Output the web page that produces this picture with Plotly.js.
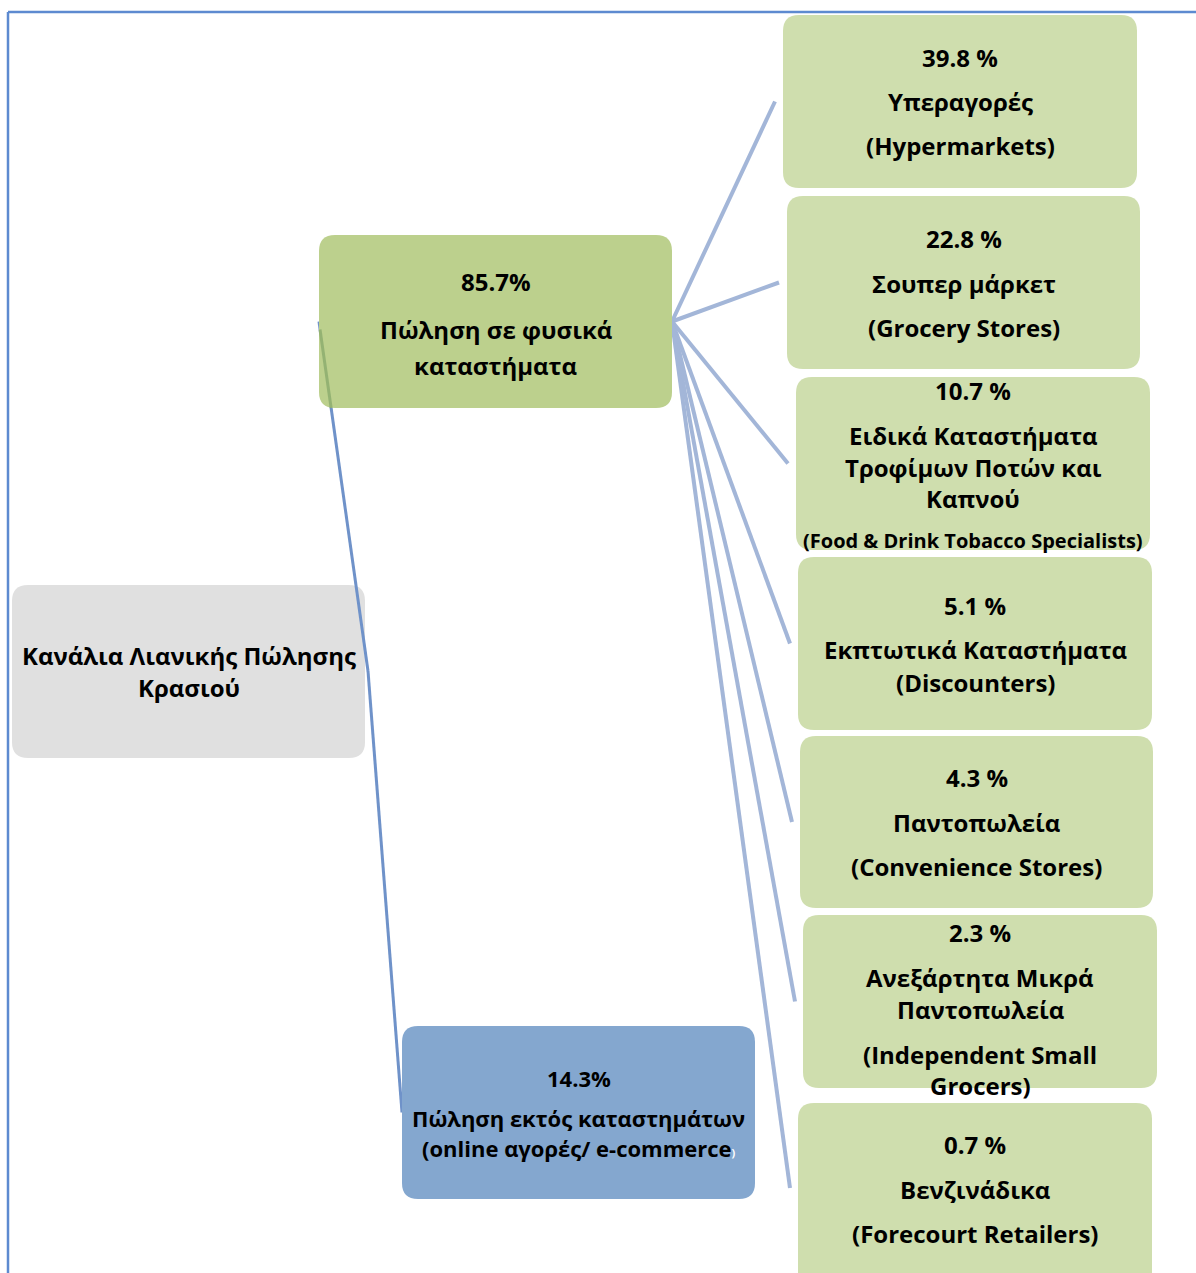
<!DOCTYPE html>
<html>
<head>
<meta charset="utf-8">
<script src="https://cdn.plot.ly/plotly-3.0.1.min.js"></script>
<style>html,body{margin:0;padding:0;background:#fff;}#chart{width:1196px;height:1273px;}</style>
</head>
<body>
<div id="chart"></div>
<script>
// ---------- DATA ----------
const rootLabel = ['Κανάλια Λιανικής Πώλησης', 'Κρασιού'];
const channelShare = ['85.7%', '14.3%'];
const channelName = [
  ['Πώληση σε φυσικά', 'καταστήματα'],
  ['Πώληση εκτός καταστημάτων', '(online αγορές/ e-commerce']
];
const storeShare = ['39.8 %', '22.8 %', '10.7 %', '5.1 %', '4.3 %', '2.3 %', '0.7 %'];
const storeGreek = [
  ['Υπεραγορές'],
  ['Σουπερ μάρκετ'],
  ['Ειδικά Καταστήματα', 'Τροφίμων Ποτών και', 'Καπνού'],
  ['Εκπτωτικά Καταστήματα'],
  ['Παντοπωλεία'],
  ['Ανεξάρτητα Μικρά', 'Παντοπωλεία'],
  ['Βενζινάδικα']
];
const storeEnglish = [
  ['(Hypermarkets)'],
  ['(Grocery Stores)'],
  ['(Food & Drink Tobacco Specialists)'],
  ['(Discounters)'],
  ['(Convenience Stores)'],
  ['(Independent Small', 'Grocers)'],
  ['(Forecourt Retailers)']
];

// ---------- LAYOUT GEOMETRY (pixels) ----------
const W = 1196, H = 1273;
const rootBox = [12, 585, 365, 758];
const rootLines = [655, 687];
const chBoxes = [[319, 235, 672, 408], [402, 1026, 755, 1199]];
const chLines = [[281, 329, 365], [1078, 1118, 1148]];
const stBoxes = [
  [783, 15, 1137, 188],
  [787, 196, 1140, 369],
  [796, 377, 1150, 550],
  [798, 557, 1152, 730],
  [800, 736, 1153, 908],
  [803, 915, 1157, 1088],
  [798, 1103, 1152, 1290]
];
const stLines = [
  [57, 101, 145],
  [238, 283, 327],
  [390, 435, 467, 498, 540],
  [605, 649, 682],
  [777, 822, 866],
  [932, 977, 1009, 1054, 1085],
  [1144, 1189, 1233]
];

const FONT = 'Open Sans, Noto Sans, DejaVu Sans, sans-serif';
const C_ROOT = '#e0e0e0', C_GREEN = '#bcd08d', C_BLUE = '#84a7cf', C_LEAF = '#cfdeae';
const C_FRAME = '#5d8ad0', C_MAIN = '#6f92c9', C_BRANCH = '#a3b6d8';

function roundRect(b, r) {
  const [x0, y0, x1, y1] = b;
  return `M ${x0 + r},${y0} L ${x1 - r},${y0} Q ${x1},${y0} ${x1},${y0 + r} ` +
    `L ${x1},${y1 - r} Q ${x1},${y1} ${x1 - r},${y1} L ${x0 + r},${y1} ` +
    `Q ${x0},${y1} ${x0},${y1 - r} L ${x0},${y0 + r} Q ${x0},${y0} ${x0 + r},${y0} Z`;
}
function boxShape(b, color) {
  return {type: 'path', xref: 'x', yref: 'y', path: roundRect(b, 16),
          fillcolor: color, line: {width: 0}, layer: 'above'};
}
function line(x0, y0, x1, y1, color, w, op) {
  return {type: 'line', xref: 'x', yref: 'y', x0, y0, x1, y1,
          line: {color, width: w}, opacity: op == null ? 1 : op, layer: 'above'};
}
function txt(x, y, text, size) {
  return {x, y, xref: 'x', yref: 'y', text: text, showarrow: false,
          xanchor: 'center', yanchor: 'middle',
          font: {family: FONT, size: size, color: '#000', weight: 700}};
}

const shapes = [];
const annotations = [];

// frame
shapes.push(line(8, 12, W, 12, C_FRAME, 2.5));
shapes.push(line(8, 12, 8, H, C_FRAME, 2.5));

// root box
shapes.push(boxShape(rootBox, C_ROOT));

// root -> channel connectors
const rootAnchor = [368, 671];
chBoxes.forEach(b => {
  shapes.push(line(rootAnchor[0], rootAnchor[1], b[0], (b[1] + b[3]) / 2, C_MAIN, 3));
});

// physical-store channel -> store connectors
const physAnchor = [chBoxes[0][2], (chBoxes[0][1] + chBoxes[0][3]) / 2];
stBoxes.forEach(b => {
  const ym = (b[1] + Math.min(b[3], H)) / 2;
  shapes.push(line(physAnchor[0], physAnchor[1], b[0] - 8, ym, C_BRANCH, 4));
});

// channel boxes
shapes.push(boxShape(chBoxes[0], C_GREEN));
shapes.push(boxShape(chBoxes[1], C_BLUE));
// faint part of the connector visible inside the green box
(function () {
  const b = chBoxes[0];
  const xe = b[0], ye = (b[1] + b[3]) / 2;
  const yb = b[3];
  const t = (yb - rootAnchor[1]) / (ye - rootAnchor[1]);
  const xb = rootAnchor[0] + t * (xe - rootAnchor[0]);
  shapes.push(line(xb, yb, xe + 1, ye + 8, '#7a9f63', 3, 0.6));
})();

// store boxes
stBoxes.forEach(b => shapes.push(boxShape(b, C_LEAF)));

// ---------- TEXT ----------
const rootCx = (rootBox[0] + rootBox[2]) / 2;
rootLabel.forEach((t, i) => annotations.push(txt(rootCx, rootLines[i], t, 24)));

chBoxes.forEach((b, k) => {
  const cx = (b[0] + b[2]) / 2;
  const size = k === 0 ? 24 : 22;
  const lines = [channelShare[k]].concat(channelName[k]);
  lines.forEach((t, i) => {
    let s = t;
    if (k === 1 && i === lines.length - 1) s = t + '<span style="font-size:11px;color:#ffffff">)</span>';
    annotations.push(txt(cx, chLines[k][i], s, size));
  });
});

stBoxes.forEach((b, k) => {
  const cx = (b[0] + b[2]) / 2;
  const lines = [storeShare[k]].concat(storeGreek[k], storeEnglish[k]);
  lines.forEach((t, i) => {
    const size = t.length > 25 && t.startsWith('(') ? 20 : 24;
    annotations.push(txt(cx, stLines[k][i], t, size));
  });
});

const layout = {
  width: W, height: H,
  margin: {l: 0, r: 0, t: 0, b: 0},
  paper_bgcolor: '#ffffff', plot_bgcolor: '#ffffff',
  xaxis: {range: [0, W], visible: false, fixedrange: true},
  yaxis: {range: [H, 0], visible: false, fixedrange: true},
  showlegend: false,
  shapes, annotations
};
Plotly.newPlot('chart', [{x: [0], y: [0], mode: 'markers', marker: {opacity: 0}, hoverinfo: 'skip'}], layout, {staticPlot: true});
</script>
</body>
</html>
